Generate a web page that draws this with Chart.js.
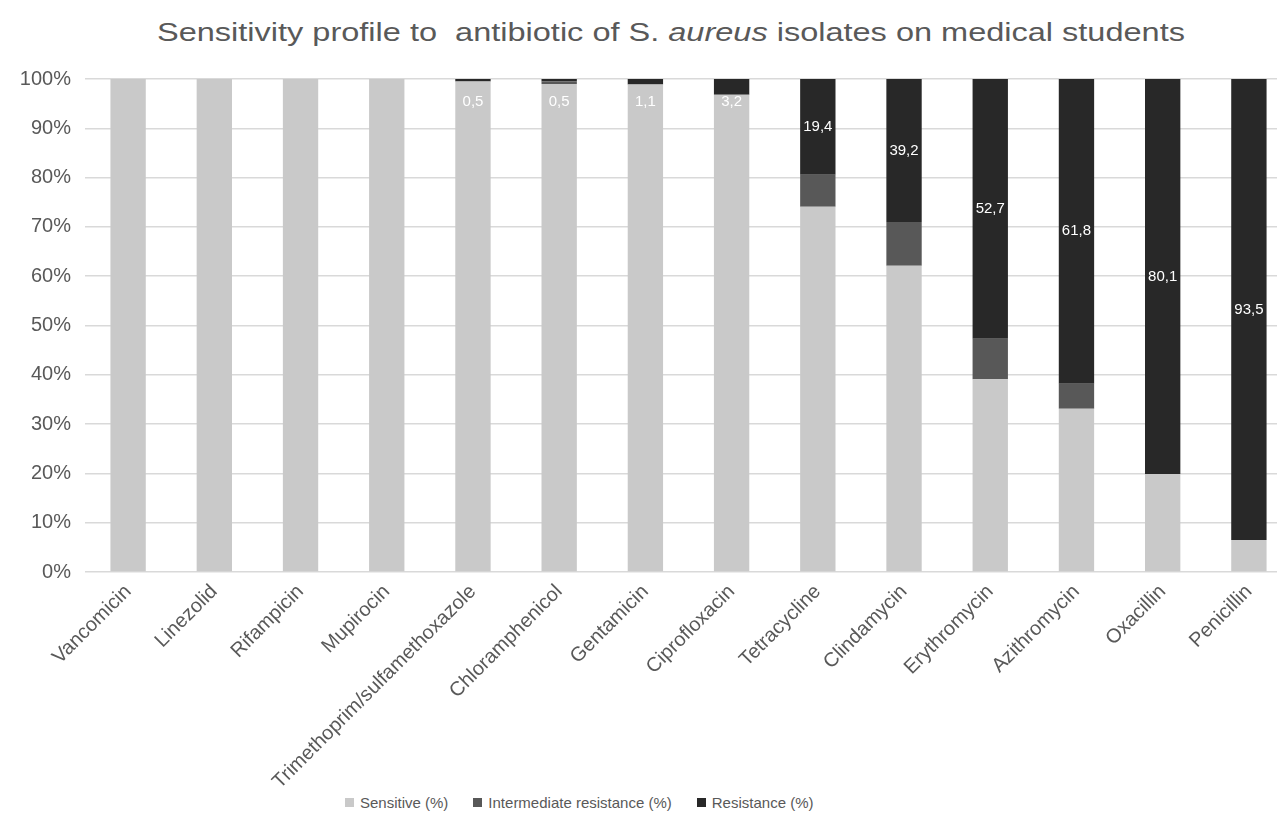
<!DOCTYPE html>
<html>
<head>
<meta charset="utf-8">
<title>S. aureus sensitivity profile</title>
<script src="https://cdn.jsdelivr.net/npm/chart.js@4"></script>
<style>
  body { margin: 0; background: #fff; overflow: hidden; font-family: "Liberation Sans", Arial, sans-serif; }
  #wrap { position: relative; width: 1277px; height: 827px; overflow: hidden; }
  #title { position: absolute; top: 17px; left: 671px; transform: translateX(-50%) scaleX(1.25); white-space: nowrap;
           font-size: 26px; line-height: 1.2; color: #595959; }
  #box { position: absolute; left: 0; top: 0; width: 1320px; height: 827px; }
  #legend { position: absolute; top: 794px; left: 345px; display: flex; font-size: 15px; color: #595959; background: #fff; }
  #legend .item { display: flex; align-items: center; margin-right: 25px; }
  #legend .sw { width: 9px; height: 9px; margin-right: 6px; }
</style>
</head>
<body>
<div id="wrap">
  <div id="title">Sensitivity profile to &nbsp;antibiotic of S. <i>aureus</i> isolates on medical students</div>
  <div id="box"><canvas id="chart" width="1320" height="827"></canvas></div>
  <div id="legend"></div>
</div>
<script>
const categories = ['Vancomicin', 'Linezolid', 'Rifampicin', 'Mupirocin', 'Trimethoprim/sulfamethoxazole',
  'Chloramphenicol', 'Gentamicin', 'Ciprofloxacin', 'Tetracycline', 'Clindamycin', 'Erythromycin',
  'Azithromycin', 'Oxacillin', 'Penicillin'];
const sensitive    = [100, 100, 100, 100, 99.5, 99.0, 98.9, 96.8, 74.1, 62.1, 39.1, 33.1, 19.9, 6.5];
const intermediate = [0, 0, 0, 0, 0, 0.5, 0, 0, 6.5, 8.9, 8.2, 5.1, 0, 0];
const resistance   = [0, 0, 0, 0, 0.5, 0.5, 1.1, 3.2, 19.4, 29.0, 52.7, 61.8, 80.1, 93.5];
// labels as printed on the original chart
const resistanceLabels = ['', '', '', '', '0,5', '0,5', '1,1', '3,2', '19,4', '39,2', '52,7', '61,8', '80,1', '93,5'];
const seriesNames = ['Sensitive (%)', 'Intermediate resistance (%)', 'Resistance (%)'];

const textColor = '#595959';
const fontFamily = '"Liberation Sans", Arial, sans-serif';

const resistanceLabelPlugin = {
  id: 'resistanceLabels',
  afterDatasetsDraw(chart) {
    const meta = chart.getDatasetMeta(2);
    const ctx = chart.ctx;
    ctx.save();
    ctx.fillStyle = '#ffffff';
    ctx.font = '15px ' + fontFamily;
    ctx.textAlign = 'center';
    ctx.textBaseline = 'middle';
    meta.data.forEach((bar, i) => {
      const txt = resistanceLabels[i];
      if (!txt) return;
      const h = bar.base - bar.y;
      const y = h < 30 ? bar.y + 23 : (bar.y + bar.base) / 2;
      ctx.fillText(txt, bar.x, y);
    });
    ctx.restore();
  }
};

const chart = new Chart(document.getElementById('chart'), {
  type: 'bar',
  data: {
    labels: categories,
    datasets: [
      { label: seriesNames[0], data: sensitive, backgroundColor: '#c9c9c9' },
      { label: seriesNames[1], data: intermediate, backgroundColor: '#585858' },
      { label: seriesNames[2], data: resistance, backgroundColor: '#282828' }
    ]
  },
  options: {
    responsive: false,
    animation: false,
    layout: { padding: { top: 79, right: 28, left: 0, bottom: 0 } },
    datasets: { bar: { barPercentage: 0.41, categoryPercentage: 1, borderWidth: 0 } },
    plugins: { legend: { display: false }, tooltip: { enabled: false } },
    scales: {
      x: {
        stacked: true,
        grid: { display: false },
        border: { display: false },
        ticks: {
          autoSkip: false, minRotation: 45, maxRotation: 45, padding: 0,
          color: textColor, font: { family: fontFamily, size: 20 }
        },
        afterFit(s) { s.height = 255; }
      },
      y: {
        stacked: true,
        min: 0, max: 100,
        grid: { color: '#d9d9d9', lineWidth: 1.5, drawTicks: false },
        border: { display: false },
        ticks: {
          stepSize: 10, padding: 14,
          color: textColor, font: { family: fontFamily, size: 20 },
          callback: v => v + '%'
        },
        afterFit(s) { s.width = 85; }
      }
    }
  },
  plugins: [resistanceLabelPlugin]
});

// legend built from the chart datasets
document.getElementById('legend').innerHTML = chart.data.datasets.map(d => `
  <div class="item"><span class="sw" style="background:${d.backgroundColor}"></span>${d.label}</div>
`).join('');
</script>
</body>
</html>
